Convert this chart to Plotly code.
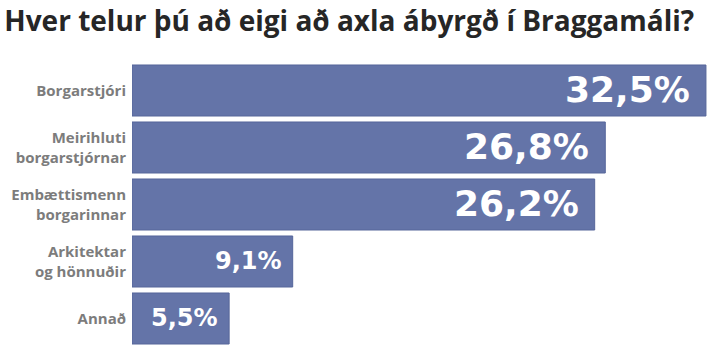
import plotly.graph_objects as go

categories = ["Borgarstjóri", "Meirihluti<br>borgarstjórnar", "Embættismenn<br>borgarinnar",
              "Arkitektar<br>og hönnuðir", "Annað"]
values = [32.5, 26.8, 26.2, 9.1, 5.5]
value_labels = ["32,5%", "26,8%", "26,2%", "9,1%", "5,5%"]

BAR = "#6474a8"

fig = go.Figure()
fig.add_trace(go.Bar(
    x=values, y=categories, orientation="h",
    marker=dict(color=BAR, line=dict(color="#56669a", width=1)),
    hoverinfo="skip",
))

for c, v, t in zip(categories, values, value_labels):
    big = v > 20
    fig.add_annotation(
        x=v, y=c, xref="x", yref="y", text=t, showarrow=False,
        xanchor="right", yanchor="middle",
        xshift=-14 if big else -9, yshift=1,
        font=dict(family="DejaVu Sans", size=36 if big else 24,
                  color="white", weight="bold"),
    )

fig.update_layout(
    width=713, height=358,
    margin=dict(l=132, r=0, t=62, b=11, autoexpand=False),
    paper_bgcolor="white", plot_bgcolor="white",
    bargap=0.105,
    showlegend=False,
    title=dict(
        text="<b>Hver telur þú að eigi að axla ábyrgð í Braggamáli?</b>",
        x=0.006, xref="container", xanchor="left",
        y=1 - 21 / 358, yref="container", yanchor="middle",
        font=dict(family="Open Sans", size=28, color="#262626"),
    ),
    xaxis=dict(range=[0, 32.9], visible=False, fixedrange=True, automargin=False),
    yaxis=dict(
        autorange="reversed", showgrid=False, zeroline=False, showline=False,
        ticks="", ticklabelstandoff=5, automargin=False, fixedrange=True,
        tickfont=dict(family="Open Sans", size=15, color="#7c7c7c", weight="bold"),
    ),
)

fig.write_html(
    "out.html",
    config={"displayModeBar": False, "staticPlot": True},
    post_script="document.body.style.margin='0';document.body.style.overflow='hidden';",
)
